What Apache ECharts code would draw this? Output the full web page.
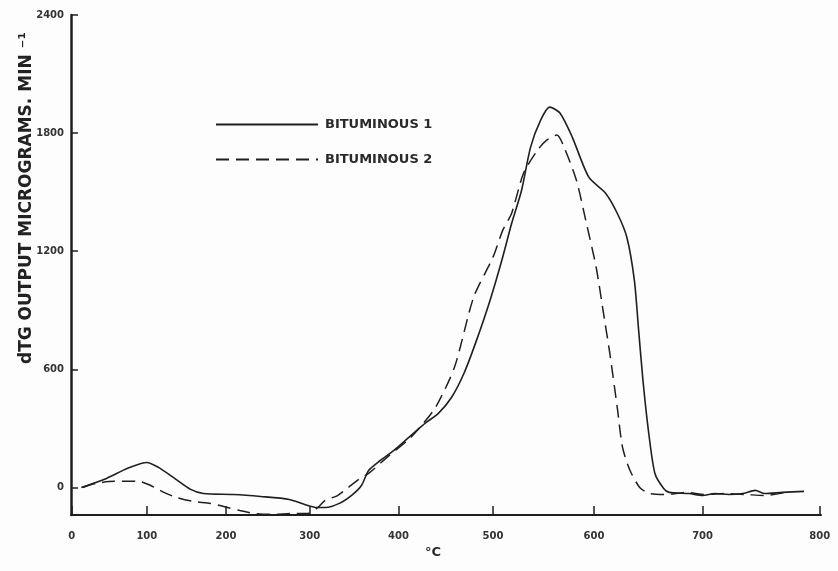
<!DOCTYPE html>
<html>
<head>
<meta charset="utf-8">
<script src="https://cdn.jsdelivr.net/npm/echarts@6/dist/echarts.min.js"></script>
<style>
  html, body { margin: 0; padding: 0; background: #fdfdfd; }
  #chart { width: 838px; height: 571px; }
</style>
</head>
<body>
<div id="chart"></div>
<script>
// Temperature (°C) and dTG output (micrograms per minute) of each coal sample
const bit1Temp = [13, 47, 75, 100, 115, 134, 156, 172, 209, 242, 276, 298, 308, 318, 334, 349, 359, 367, 380, 395,
  410, 430, 443, 457, 470, 483, 497, 509, 519, 529, 538, 548, 557, 567, 579, 595, 611, 622, 631, 638,
  642, 646, 651, 657, 665, 670, 688, 700, 711, 723, 735, 746, 754, 769, 787];
const bit1Rate = [0, 46, 97, 127, 102, 51, -10, -31, -36, -46, -61, -92, -102, -102, -81, -36, 10, 86, 137, 188,
  249, 330, 376, 458, 580, 747, 951, 1154, 1342, 1510, 1729, 1866, 1932, 1902, 1780, 1576, 1495, 1393, 1271, 1053,
  798, 544, 290, 71, -5, -25, -31, -41, -31, -36, -31, -15, -31, -25, -20];

const bit2Temp = [15, 32, 57, 89, 105, 122, 138, 159, 181, 197, 217, 234, 257, 279, 298, 308, 318, 332, 356, 367,
  390, 410, 425, 440, 460, 480, 500, 510, 519, 531, 545, 554, 564, 571, 583, 592, 602, 609, 615, 622,
  627, 634, 643, 652, 667, 685, 703, 720, 738, 754, 772];
const bit2Rate = [0, 20, 31, 31, 10, -25, -51, -71, -81, -97, -117, -132, -137, -132, -132, -107, -66, -41, 41, 71,
  163, 239, 315, 407, 610, 966, 1170, 1307, 1393, 1597, 1714, 1764, 1790, 1729, 1561, 1358, 1119, 885, 681, 407,
  203, 86, 0, -31, -36, -25, -36, -31, -36, -41, -25];

const seriesNames = ['BITUMINOUS 1', 'BITUMINOUS 2'];
const tempTicks = [0, 100, 200, 300, 400, 500, 600, 700, 800];
const rateTicks = [0, 600, 1200, 1800, 2400];

// The temperature scale of this plot opens up towards high temperatures.
// It is drawn as a reversed log axis over (T_REF - T), which spaces the
// ticks the same way; labels are converted back to °C.
const T_REF = 2000;
const toAxis = t => T_REF - t;
const fromAxis = u => Math.round(T_REF - u);

const pairs = (temps, rates) => temps.map((t, i) => [toAxis(t), rates[i]]);

const ink = '#1f1f1f';
const labelFont = { fontFamily: 'DejaVu Sans', fontWeight: 'bold', color: '#2a2a2a' };

const chart = echarts.init(document.getElementById('chart'), null, { renderer: 'canvas' });

chart.setOption({
  backgroundColor: '#fdfdfd',
  animation: false,
  grid: { left: 71, right: 17, top: 15, bottom: 56 },
  legend: {
    left: 215,
    top: 118,
    padding: 0,
    orient: 'vertical',
    itemWidth: 102,
    itemHeight: 12,
    itemGap: 22,
    data: seriesNames,
    itemStyle: { opacity: 0 },
    textStyle: Object.assign({ fontSize: 13, padding: [0, 0, 0, 2] }, labelFont)
  },
  xAxis: {
    type: 'log',
    inverse: true,
    min: toAxis(801),
    max: toAxis(-1),
    name: '°C',
    nameLocation: 'middle',
    nameGap: 30,
    nameTextStyle: Object.assign({ fontSize: 13, padding: [0, 26, 0, 0] }, labelFont),
    axisLine: { onZero: false, lineStyle: { color: ink, width: 2 } },
    axisTick: {
      inside: true, length: 9,
      customValues: tempTicks.map(toAxis),
      lineStyle: { color: ink, width: 1.5 }
    },
    axisLabel: {
      customValues: tempTicks.map(toAxis),
      formatter: v => String(fromAxis(v)),
      margin: 16,
      fontSize: 10,
      fontFamily: 'DejaVu Sans',
      fontWeight: 'bold',
      color: '#333'
    },
    splitLine: { show: false },
    minorTick: { show: false }
  },
  yAxis: {
    type: 'value',
    min: -140,
    max: 2400,
    axisLine: { show: true, onZero: false, lineStyle: { color: ink, width: 2.5 } },
    axisTick: {
      show: true, inside: true, length: 7,
      customValues: rateTicks,
      lineStyle: { color: ink, width: 1.5 }
    },
    axisLabel: {
      customValues: rateTicks,
      formatter: v => String(v),
      margin: 7,
      fontSize: 10,
      fontFamily: 'DejaVu Sans',
      fontWeight: 'bold',
      color: '#333'
    },
    splitLine: { show: false }
  },
  graphic: [{
    type: 'text',
    x: 27,
    y: 198,
    rotation: Math.PI / 2,
    style: {
      text: 'dTG OUTPUT MICROGRAMS. MIN ⁻¹',
      font: 'bold 17px "DejaVu Sans"',
      fill: '#222',
      align: 'center',
      verticalAlign: 'middle'
    }
  }],
  series: [
    {
      name: seriesNames[0],
      type: 'line',
      data: pairs(bit1Temp, bit1Rate),
      symbol: 'none',
      smooth: 0.25,
      lineStyle: { color: ink, width: 1.6, type: 'solid' },
      itemStyle: { color: ink }
    },
    {
      name: seriesNames[1],
      type: 'line',
      data: pairs(bit2Temp, bit2Rate),
      symbol: 'none',
      smooth: 0.25,
      lineStyle: { color: ink, width: 1.5, type: [13, 7] },
      itemStyle: { color: ink }
    }
  ]
});
</script>
</body>
</html>
